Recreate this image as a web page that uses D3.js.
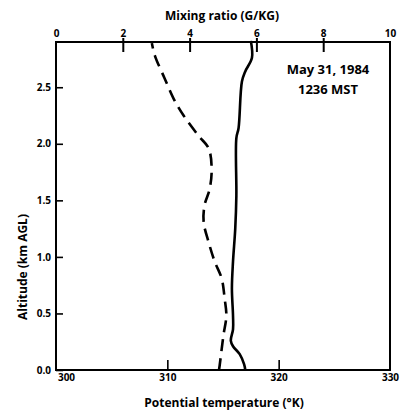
<!DOCTYPE html>
<html>
<head>
<meta charset="utf-8">
<script src="https://cdn.jsdelivr.net/npm/d3@7"></script>
<style>
  html, body { margin: 0; padding: 0; background: #fff; }
  svg { display: block; }
  text { font-family: "Open Sans", "DejaVu Sans", sans-serif; font-weight: 700; fill: #000; }
</style>
</head>
<body>
<svg id="chart" width="406" height="416"></svg>
<script>
// Potential temperature profile (solid line, bottom axis)
const thetaAlt = [0.00, 0.05, 0.14, 0.21, 0.26, 0.36, 0.48, 0.72, 0.96, 1.25, 1.54, 2.05, 2.14, 2.55, 2.64, 2.76, 2.91];
const thetaK   = [317.0, 316.9, 316.5, 315.9, 315.7, 315.9, 315.9, 315.8, 315.9, 316.1, 316.2, 316.2, 316.4, 316.7, 317.0, 317.6, 317.5];

// Mixing ratio profile (dashed line, top axis)
const mixAlt = [0.00, 0.04, 0.30, 0.48, 0.63, 0.81, 0.96, 1.13, 1.31, 1.46, 1.60, 1.78, 1.96, 2.07, 2.25, 2.40, 2.58, 2.78, 2.89];
const mixGkg = [4.88, 4.90, 5.01, 5.10, 5.05, 4.96, 4.75, 4.57, 4.42, 4.45, 4.60, 4.66, 4.57, 4.27, 3.82, 3.52, 3.25, 2.96, 2.87];

// Tick values
const altTicks = [0.0, 0.5, 1.0, 1.5, 2.0, 2.5];
const thetaTicks = [300, 310, 320, 330];
const mixTicks = [0, 2, 4, 6, 8, 10];

const svg = d3.select("#chart");
const plotL = 56, plotR = 390, plotT = 42, plotB = 370;

const x = d3.scaleLinear().domain([300, 330]).range([plotL, plotR]);
const xTop = d3.scaleLinear().domain([0, 10]).range([plotL, plotR]);
const y = d3.scaleLinear().domain([0, 2.9]).range([plotB, plotT]);

// Frame
svg.append("rect")
  .attr("x", plotL).attr("y", plotT)
  .attr("width", plotR - plotL).attr("height", plotB - plotT)
  .attr("fill", "none").attr("stroke", "#000").attr("stroke-width", 2);

// Left axis: inward ticks
const yAxis = svg.append("g").attr("transform", `translate(${plotL},0)`)
  .call(d3.axisLeft(y).tickValues(altTicks).tickSizeInner(-7).tickSizeOuter(0).tickPadding(5).tickFormat(d3.format(".1f")));
yAxis.select(".domain").remove();
yAxis.selectAll("line").attr("stroke-width", 1.6);
yAxis.selectAll("text").style("font-size", "10px");

// Bottom axis: inward ticks
const xAxis = svg.append("g").attr("transform", `translate(0,${plotB})`)
  .call(d3.axisBottom(x).tickValues(thetaTicks).tickSizeInner(-10).tickSizeOuter(0).tickPadding(4).tickFormat(d3.format("d")));
xAxis.select(".domain").remove();
xAxis.selectAll(".tick").filter(d => d === 300 || d === 330).select("line").remove();
xAxis.selectAll("line").attr("stroke-width", 1.6);
xAxis.selectAll("text").style("font-size", "10px");
xAxis.selectAll(".tick").filter(d => d === 300).select("text").attr("dx", 10);

// Top axis: ticks crossing the axis line
const xTopAxis = svg.append("g").attr("transform", `translate(0,${plotT})`)
  .call(d3.axisTop(xTop).tickValues(mixTicks).tickSizeInner(4).tickSizeOuter(0).tickPadding(1).tickFormat(d3.format("d")));
xTopAxis.select(".domain").remove();
xTopAxis.selectAll(".tick line").attr("y2", -4).attr("y1", 10).attr("stroke-width", 2);
xTopAxis.selectAll(".tick").filter(d => d === 0 || d === 10).select("line").remove();
xTopAxis.selectAll("text").style("font-size", "10px");

// Profiles
const thetaLine = d3.line()
  .x((d, i) => x(thetaK[i]))
  .y(d => y(d))
  .curve(d3.curveCatmullRom.alpha(0.5));
svg.append("path")
  .attr("d", thetaLine(thetaAlt))
  .attr("fill", "none").attr("stroke", "#000").attr("stroke-width", 2.6);

const mixLine = d3.line()
  .x((d, i) => xTop(mixGkg[i]))
  .y(d => y(d))
  .curve(d3.curveCatmullRom.alpha(0.5));
svg.append("path")
  .attr("d", mixLine(mixAlt))
  .attr("fill", "none").attr("stroke", "#000").attr("stroke-width", 2.6)
  .attr("stroke-dasharray", "12,7");

// Axis titles
svg.append("text").attr("x", 222).attr("y", 20).attr("text-anchor", "middle")
  .style("font-size", "12px").text("Mixing ratio (G/KG)");
svg.append("text").attr("x", 224).attr("y", 407).attr("text-anchor", "middle")
  .style("font-size", "12px").text("Potential temperature (°K)");
svg.append("text").attr("transform", "translate(27,267) rotate(-90)").attr("text-anchor", "middle")
  .style("font-size", "12px").text("Altitude (km AGL)");

// Date / time annotation
svg.append("text").attr("x", 328).attr("y", 74).attr("text-anchor", "middle")
  .style("font-size", "13px").text("May 31, 1984");
svg.append("text").attr("x", 328).attr("y", 94).attr("text-anchor", "middle")
  .style("font-size", "13px").text("1236 MST");
</script>
</body>
</html>
